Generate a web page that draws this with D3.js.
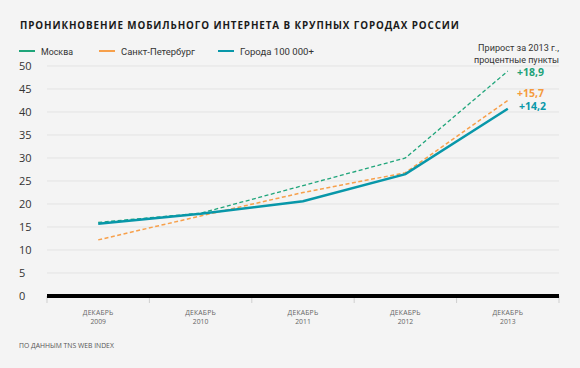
<!DOCTYPE html>
<html><head><meta charset="utf-8">
<script src="https://cdn.jsdelivr.net/npm/d3@7"></script>
<style>
html,body{margin:0;padding:0;background:#f4f4f4;}
svg{display:block;font-family:"Open Sans","DejaVu Sans",sans-serif;}
</style></head>
<body>
<svg id="chart" width="580" height="368"></svg>
<script>
const categories = ["2009","2010","2011","2012","2013"];
const monthLabel = "ДЕКАБРЬ";
const seriesNames = ["Москва","Санкт-Петербург","Города 100 000+"];
const moscow = [16.0, 18.0, 24.0, 30.0, 48.9];
const spb = [12.2, 17.4, 22.5, 26.8, 42.5];
const cities = [15.7, 17.9, 20.6, 26.5, 40.7];
const growthLabels = ["+18,9","+15,7","+14,2"];
const yTicks = [0,5,10,15,20,25,30,35,40,45,50];
const title = "ПРОНИКНОВЕНИЕ МОБИЛЬНОГО ИНТЕРНЕТА В КРУПНЫХ ГОРОДАХ РОССИИ";
const note = ["Прирост за 2013 г.,","процентные пункты"];
const source = "ПО ДАННЫМ TNS WEB INDEX";

const colors = ["#1fa57a","#f7a04b","#0897a9"];
const labelColors = ["#1ea278","#f59a3c","#0a98a9"];

const svg = d3.select("#chart");
const x = d3.scaleBand().domain(categories).range([47,559]);
const y = d3.scaleLinear().domain([0,50]).range([296,66]);

function fit(sel, w){
  const n = sel.node();
  const fs = parseFloat(sel.attr("font-size"));
  const cur = n.getComputedTextLength();
  if (cur > 0) sel.attr("font-size", (fs * w / cur).toFixed(2));
  return sel;
}

// title
fit(svg.append("text").attr("x",20).attr("y",29)
  .attr("font-size",10.5).attr("font-weight","bold").attr("letter-spacing",0.9)
  .attr("fill","#1a1a1a").text(title), 437);

// legend
const legX = [19,99,218];
const legW = [32,74,74];
seriesNames.forEach((n,i)=>{
  svg.append("line").attr("x1",legX[i]).attr("x2",legX[i]+16).attr("y1",51).attr("y2",51)
    .attr("stroke",colors[i]).attr("stroke-width",2);
  fit(svg.append("text").attr("x",legX[i]+22).attr("y",55).attr("font-size",10.5)
    .attr("font-family","Roboto, sans-serif")
    .attr("fill","#333").text(n), legW[i]);
});

// note
const noteW = [81,85];
note.forEach((t,i)=>{
  fit(svg.append("text").attr("x",559).attr("y",51+i*12).attr("text-anchor","end")
    .attr("font-size",10).attr("font-family","Roboto, sans-serif")
    .attr("fill","#333").text(t), noteW[i]);
});

// grid
svg.append("g").selectAll("line").data(yTicks.filter(d=>d>0)).join("line")
  .attr("x1",47).attr("x2",559).attr("y1",d=>y(d)).attr("y2",d=>y(d))
  .attr("stroke","#e3e3e3").attr("stroke-width",1);

// y labels
svg.append("g").selectAll("text").data(yTicks).join("text")
  .attr("x",19).attr("y",d=>y(d)+4).attr("font-size",11).attr("fill","#333")
  .text(d=>d);

// x axis ticks
const tickXs = categories.map(c=>x(c)).concat([x.range()[1]]);
svg.append("g").selectAll("line").data(tickXs).join("line")
  .attr("x1",d=>d).attr("x2",d=>d).attr("y1",296).attr("y2",303)
  .attr("stroke","#cfcfcf").attr("stroke-width",1);

// black baseline
svg.append("line").attr("x1",47).attr("x2",559).attr("y1",y(0)).attr("y2",y(0))
  .attr("stroke","#000").attr("stroke-width",4);

// x labels
const xl = svg.append("g").selectAll("g").data(categories).join("g")
  .attr("transform",d=>`translate(${x(d)+x.bandwidth()/2},0)`);
xl.append("text").attr("y",315).attr("text-anchor","middle").attr("font-size",6.8)
  .attr("fill","#666").attr("letter-spacing",0.2).text(monthLabel);
xl.append("text").attr("y",324).attr("text-anchor","middle").attr("font-size",6.8)
  .attr("fill","#666").text(d=>d);

// lines
const line = d3.line().x((d,i)=>x(categories[i])+x.bandwidth()/2).y(d=>y(d));
const data = [moscow,spb,cities];
const styles = [
  {w:1.3,dash:"4,2.5"},
  {w:1.5,dash:"4,2.5"},
  {w:2.5,dash:null}
];
[1,0,2].forEach(i=>{
  svg.append("path").datum(data[i]).attr("d",line).attr("fill","none")
    .attr("stroke",colors[i]).attr("stroke-width",styles[i].w)
    .attr("stroke-dasharray",styles[i].dash);
});

// growth labels
const gy = [76,97,110];
const gx = [517,517,519];
growthLabels.forEach((t,i)=>{
  svg.append("text").attr("x",gx[i]).attr("y",gy[i]).attr("font-size",10.5)
    .attr("font-weight","bold").attr("fill",labelColors[i]).text(t);
});

// source
svg.append("text").attr("x",19).attr("y",348).attr("font-size",6.8)
  .attr("fill","#555").text(source);
</script>
</body></html>
